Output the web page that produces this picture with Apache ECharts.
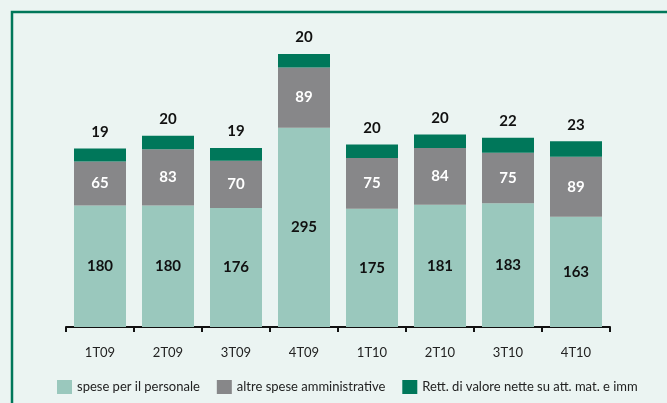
<!DOCTYPE html>
<html>
<head>
<meta charset="utf-8">
<script src="https://cdn.jsdelivr.net/npm/echarts@6/dist/echarts.min.js"></script>
<style>
html, body { margin: 0; padding: 0; background: #ebf4f2; }
#chart { width: 667px; height: 403px; }
</style>
</head>
<body>
<div id="chart"></div>
<script>
// quarters
var categories = ['1T09', '2T09', '3T09', '4T09', '1T10', '2T10', '3T10', '4T10'];
var personale = [180, 180, 176, 295, 175, 181, 183, 163];
var amministrative = [65, 83, 70, 89, 75, 84, 75, 89];
var rettifiche = [19, 20, 19, 20, 20, 20, 22, 23];

var seriesNames = ['spese per il personale', 'altre spese amministrative', 'Rett. di valore nette su att. mat. e imm'];

var myChart = echarts.init(document.getElementById('chart'));

var lblFont = 'Lato';

var option = {
    backgroundColor: '#ebf4f2',
    animation: false,
    textStyle: { fontFamily: lblFont },
    graphic: [{
        type: 'polyline',
        shape: { points: [[12, 403], [12, 12], [667, 12]] },
        style: { stroke: '#00775a', lineWidth: 2.5, fill: null }
    }],
    grid: { left: 66, right: 57, top: 27, bottom: 76 },
    legend: {
        left: 57,
        top: 380,
        padding: 0,
        itemWidth: 15,
        itemHeight: 14,
        itemGap: 17,
        icon: 'rect',
        textStyle: { fontSize: 13, color: '#222', fontFamily: lblFont },
        data: seriesNames
    },
    xAxis: {
        type: 'category',
        data: categories,
        axisLine: { lineStyle: { color: '#111', width: 2 } },
        axisTick: { show: true, length: 5, lineStyle: { color: '#111', width: 2 } },
        axisLabel: { color: '#222', fontSize: 13, margin: 19 }
    },
    yAxis: {
        type: 'value',
        min: 0,
        max: 444,
        show: false,
        splitLine: { show: false }
    },
    series: [{
        name: seriesNames[0],
        type: 'bar',
        stack: 'tot',
        barWidth: 52,
        itemStyle: { color: '#9ac8bd' },
        label: { show: true, position: 'inside', color: '#111', fontWeight: 'bold', fontSize: 15 },
        data: personale
    }, {
        name: seriesNames[1],
        type: 'bar',
        stack: 'tot',
        itemStyle: { color: '#878789' },
        label: { show: true, position: 'inside', color: '#fff', fontWeight: 'bold', fontSize: 15 },
        data: amministrative
    }, {
        name: seriesNames[2],
        type: 'bar',
        stack: 'tot',
        itemStyle: { color: '#00775a' },
        label: { show: true, position: 'top', distance: 9, color: '#111', fontWeight: 'bold', fontSize: 15 },
        data: rettifiche
    }]
};

myChart.setOption(option);
</script>
</body>
</html>
